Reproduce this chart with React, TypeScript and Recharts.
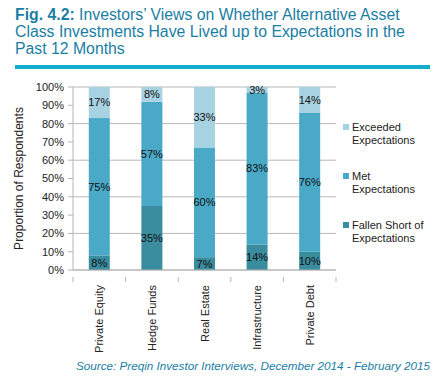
import { BarChart, Bar, XAxis, YAxis, CartesianGrid, LabelList } from "recharts";

const categories = ["Private Equity", "Hedge Funds", "Real Estate", "Infrastructure", "Private Debt"];
const fallenShort = [8, 35, 7, 14, 10];
const met = [75, 57, 60, 83, 76];
const exceeded = [17, 8, 33, 3, 14];
const yTicks = [0, 10, 20, 30, 40, 50, 60, 70, 80, 90, 100];

const data = categories.map((name, i) => ({
  name,
  fallen: fallenShort[i],
  met: met[i],
  exceeded: exceeded[i],
}));

const series = [
  { key: "exceeded", label: "Exceeded\nExpectations", color: "#a7d2e1" },
  { key: "met", label: "Met\nExpectations", color: "#49a9c6" },
  { key: "fallen", label: "Fallen Short of\nExpectations", color: "#3a8c9f" },
];

const FONT = "'Liberation Sans', Arial, sans-serif";
const TEAL = "#1a7ea3";
const PLOT_LEFT = 73;
const PLOT_RIGHT = 336;
const BAND = (PLOT_RIGHT - PLOT_LEFT) / categories.length;

const XTick = (props: any) => {
  const { x, y, payload, index } = props;
  return (
    <g>
      {index === 0 && (
        <line x1={x - BAND / 2} x2={x - BAND / 2} y1={y - 8} y2={y - 3} stroke="#b5b5b5" />
      )}
      <line x1={x + BAND / 2} x2={x + BAND / 2} y1={y - 8} y2={y - 3} stroke="#b5b5b5" />
      <text
        x={x}
        y={y}
        transform={`rotate(-90, ${x}, ${y})`}
        textAnchor="end"
        dominantBaseline="central"
        fontSize={11}
        fontFamily={FONT}
        fill="#222"
      >
        {payload.value}
      </text>
    </g>
  );
};

const segLabel = { position: "center" as const, fill: "#111", fontSize: 11, fontFamily: FONT };
const pct = (v: any) => `${v}%`;

export default function App() {
  return (
    <div style={{ position: "absolute", left: 0, top: 0, width: 440, height: 382, background: "#fff" }}>
      <div
        style={{
          position: "absolute",
          left: 15,
          top: 6,
          width: 425,
          fontFamily: FONT,
          fontSize: 15.8,
          lineHeight: "17px",
          color: TEAL,
          whiteSpace: "nowrap",
        }}
      >
        <b>Fig. 4.2:</b> Investors’ Views on Whether Alternative Asset
        <br />
        Class Investments Have Lived up to Expectations in the
        <br />
        Past 12 Months
      </div>
      <div style={{ position: "absolute", left: 15, top: 65, width: 415, height: 4, background: "#12aed1" }} />

      <BarChart
        width={440}
        height={382}
        data={data}
        margin={{ top: 87, right: 104, bottom: 0, left: 0 }}
        barCategoryGap="30%"
        style={{ position: "absolute", left: 0, top: 0 }}
      >
        <CartesianGrid vertical={false} stroke="#b8b8b8" />
        <XAxis
          dataKey="name"
          height={112}
          stroke="#b5b5b5"
          tickLine={false}
          interval={0}
          tick={<XTick />}
          tickMargin={9}
        />
        <YAxis
          width={73}
          domain={[0, 100]}
          ticks={yTicks}
          tickFormatter={pct}
          stroke="#b5b5b5"
          tickSize={5}
          tickMargin={4}
          tick={{ fontSize: 11, fontFamily: FONT, fill: "#222" }}
          label={{
            value: "Proportion of Respondents",
            angle: -90,
            position: "insideLeft",
            offset: 19,
            style: { textAnchor: "middle", fontSize: 12, fontFamily: FONT, fill: "#222" },
          }}
        />
        <Bar dataKey="fallen" stackId="a" fill="#3a8c9f" isAnimationActive={false}>
          <LabelList dataKey="fallen" {...segLabel} formatter={pct} />
        </Bar>
        <Bar dataKey="met" stackId="a" fill="#49a9c6" isAnimationActive={false}>
          <LabelList dataKey="met" {...segLabel} formatter={pct} />
        </Bar>
        <Bar dataKey="exceeded" stackId="a" fill="#a7d2e1" isAnimationActive={false}>
          <LabelList dataKey="exceeded" {...segLabel} formatter={pct} />
        </Bar>
      </BarChart>

      <div style={{ position: "absolute", left: 343, top: 121, fontFamily: FONT, fontSize: 11, color: "#222" }}>
        {series.map((s) => (
          <div key={s.key} style={{ display: "flex", alignItems: "flex-start", marginBottom: 24, lineHeight: "12.5px" }}>
            <div style={{ width: 6, height: 6, background: s.color, marginTop: 3, marginRight: 3, flexShrink: 0 }} />
            <div style={{ whiteSpace: "pre" }}>{s.label}</div>
          </div>
        ))}
      </div>

      <div
        style={{
          position: "absolute",
          right: 10,
          top: 359,
          fontFamily: FONT,
          fontSize: 11.7,
          fontStyle: "italic",
          color: TEAL,
          whiteSpace: "nowrap",
        }}
      >
        Source: Preqin Investor Interviews, December 2014 - February 2015
      </div>
    </div>
  );
}
